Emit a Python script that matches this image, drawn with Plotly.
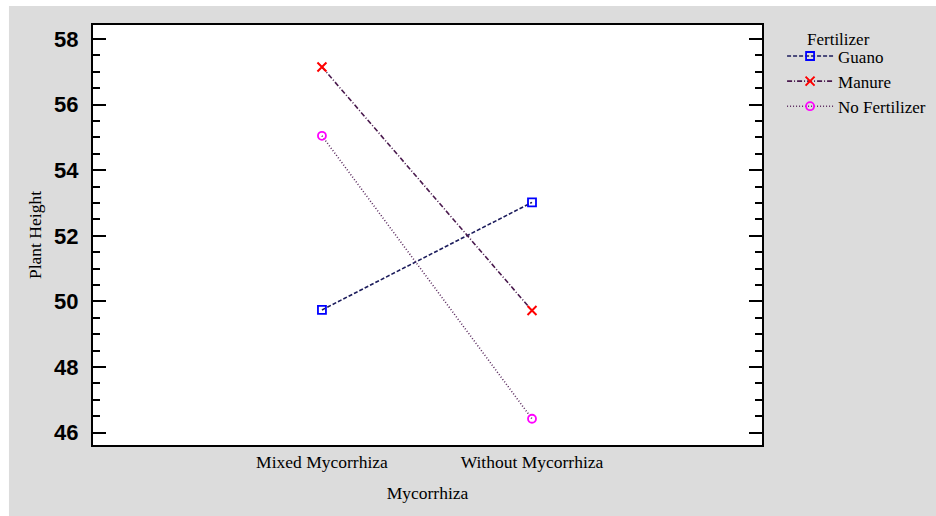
import plotly.graph_objects as go

# Mean plant height for each fertilizer across mycorrhiza treatments
mycorrhiza = ["Mixed Mycorrhiza", "Without Mycorrhiza"]
guano = [49.74, 53.02]
manure = [57.15, 49.72]
no_fertilizer = [55.05, 46.42]

SERIF = "Times New Roman, Liberation Serif, serif"
SANS = "Arial, Liberation Sans, sans-serif"
GREY = "#dcdcdc"

fig = go.Figure()

fig.add_trace(go.Scatter(
    x=mycorrhiza, y=guano, name="Guano", mode="lines+markers",
    line=dict(color="#1c1c5c", width=1.6, dash="4px,2px"),
    marker=dict(symbol="square-open", size=8, color="#0000ff", line=dict(width=1.8)),
))
fig.add_trace(go.Scatter(
    x=mycorrhiza, y=manure, name="Manure", mode="lines+markers",
    line=dict(color="#4a1a4e", width=1.6, dash="5px,2px,1px,2px"),
    marker=dict(symbol="x-thin-open", size=9, color="#ff0000", line=dict(width=2, color="#ff0000")),
))
fig.add_trace(go.Scatter(
    x=mycorrhiza, y=no_fertilizer, name="No Fertilizer", mode="lines+markers",
    line=dict(color="#5a2a5e", width=1.6, dash="1px,2px"),
    marker=dict(symbol="circle-open", size=8, color="#ff00ff", line=dict(width=1.8)),
))

fig.update_layout(
    width=936, height=516,
    margin=dict(l=93, r=174, t=25, b=71, autoexpand=False),
    paper_bgcolor=GREY,
    plot_bgcolor="white",
    showlegend=True,
    legend=dict(
        x=1.03, y=0.968, xanchor="left", yanchor="top",
        bgcolor="rgba(0,0,0,0)",
        font=dict(family=SERIF, size=17, color="black"),
        itemwidth=46, tracegroupgap=0,
    ),
    # thin white margin strips along the top and left edges of the page
    shapes=[
        dict(type="rect", xref="paper", yref="paper", layer="below",
             x0=-0.3, x1=1.4, y0=1.045, y1=1.2, fillcolor="white", line=dict(width=0)),
        dict(type="rect", xref="paper", yref="paper", layer="below",
             x0=-0.3, x1=-0.1256, y0=-0.3, y1=1.2, fillcolor="white", line=dict(width=0)),
    ],
    annotations=[dict(
        text="Fertilizer", xref="paper", yref="paper",
        x=1.064, y=0.966, xanchor="left", yanchor="middle", showarrow=False,
        font=dict(family=SERIF, size=17, color="black"),
    )],
)

fig.update_xaxes(
    type="category", range=[-1.09, 2.095],
    showline=True, linecolor="black", linewidth=2, mirror=True,
    showgrid=False, zeroline=False, ticks="",
    tickfont=dict(family=SERIF, size=17.5, color="black"),
    title=dict(text="Mycorrhiza", font=dict(family=SERIF, size=17.5, color="black"), standoff=16),
)
fig.update_yaxes(
    range=[45.62, 58.43], tickvals=[46, 48, 50, 52, 54, 56, 58],
    showline=True, linecolor="black", linewidth=2, mirror="ticks",
    showgrid=False, zeroline=False,
    ticks="inside", ticklen=13, tickwidth=2, tickcolor="black",
    minor=dict(dtick=0.5, ticks="inside", ticklen=7, tickwidth=2, tickcolor="black", showgrid=False),
    ticklabelstandoff=8,
    tickfont=dict(family=SANS, size=22, color="black", weight="bold"),
    title=dict(text="Plant Height", font=dict(family=SERIF, size=17.5, color="black"), standoff=8),
)

fig.write_html("out.html")
